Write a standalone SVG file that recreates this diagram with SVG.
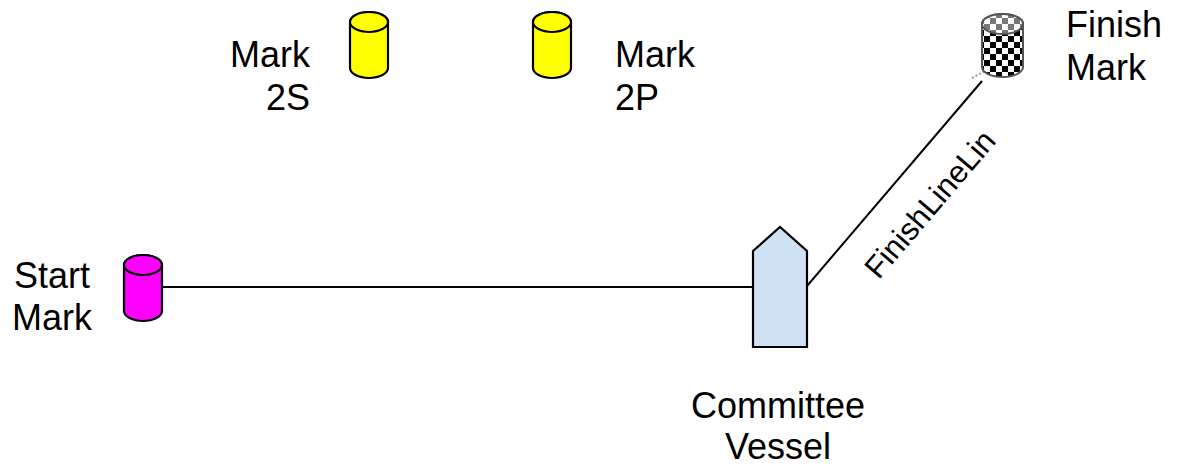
<svg xmlns="http://www.w3.org/2000/svg" width="1177" height="468" viewBox="0 0 1177 468">
<style>
text{font-family:"Liberation Sans",Arial,sans-serif;font-size:36px;fill:#000}
.cyl{stroke:#000;stroke-width:2.2}
.conn{stroke:#000;stroke-width:2;fill:none}
</style>
<defs>
<pattern id="chk" x="0" y="0" width="12" height="12" patternUnits="userSpaceOnUse">
<rect width="12" height="12" fill="#fff"/>
<rect width="6" height="6" fill="#000"/>
<rect x="6" y="6" width="6" height="6" fill="#000"/>
</pattern>
<pattern id="chkl" x="0" y="0" width="12" height="12" patternUnits="userSpaceOnUse">
<rect width="12" height="12" fill="#fff"/>
<rect width="6" height="6" fill="#777"/>
<rect x="6" y="6" width="6" height="6" fill="#777"/>
</pattern>
</defs>
<rect width="1177" height="468" fill="#fff"/>
<g id="connectors">
<line class="conn" x1="162" y1="287" x2="753" y2="287"/>
<line class="conn" x1="807" y1="286" x2="982" y2="81"/>
<line x1="972" y1="78" x2="985" y2="71" stroke="#999" stroke-width="2" stroke-dasharray="2 2"/>
<text transform="translate(938 211) rotate(-49.5)" text-anchor="middle" style="font-size:31px">FinishLineLin</text>
</g>
<g id="mark2s">
<path class="cyl" fill="#ffff00" d="M350,22 A19,10 0 0 1 388,22 V68 A19,10 0 0 1 350,68 Z"/>
<ellipse class="cyl" fill="#ffff00" cx="369" cy="22" rx="19" ry="10"/>
<text x="310" y="67" text-anchor="end">Mark</text>
<text x="310" y="110" text-anchor="end">2S</text>
</g>
<g id="mark2p">
<path class="cyl" fill="#ffff00" d="M533,22 A19,10 0 0 1 571,22 V68 A19,10 0 0 1 533,68 Z"/>
<ellipse class="cyl" fill="#ffff00" cx="552" cy="22" rx="19" ry="10"/>
<text x="615" y="67" text-anchor="start">Mark</text>
<text x="615" y="110" text-anchor="start">2P</text>
</g>
<g id="startmark">
<path class="cyl" fill="#ff00ff" d="M124,265 A19,10 0 0 1 162,265 V311 A19,10 0 0 1 124,311 Z"/>
<ellipse class="cyl" fill="#ff00ff" cx="143" cy="265" rx="19" ry="10"/>
<text x="52" y="288" text-anchor="middle">Start</text>
<text x="52" y="330" text-anchor="middle">Mark</text>
</g>
<g id="finishmark">
<path fill="url(#chk)" stroke="#555" stroke-width="2" d="M982,24 A20.5,10 0 0 1 1023,24 V67 A20.5,10 0 0 1 982,67 Z"/>
<ellipse fill="url(#chkl)" stroke="#555" stroke-width="2" cx="1002.5" cy="24" rx="20.5" ry="10"/>
<text x="1066" y="37" text-anchor="start">Finish</text>
<text x="1066" y="80" text-anchor="start">Mark</text>
</g>
<g id="committeevessel">
<polygon points="753,251 780,227 807,251 807,347 753,347" fill="#cfe2f3" stroke="#000" stroke-width="2.2" stroke-linejoin="miter"/>
<text x="778" y="418" text-anchor="middle">Committee</text>
<text x="778" y="459" text-anchor="middle">Vessel</text>
</g>
</svg>
